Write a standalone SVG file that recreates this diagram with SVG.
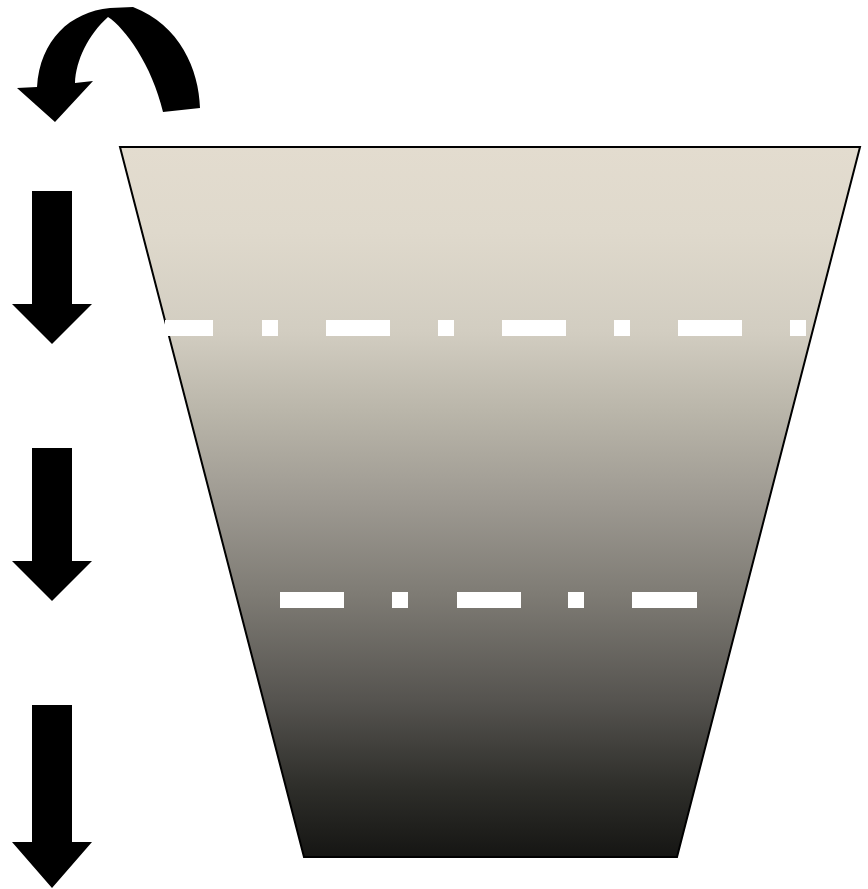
<svg xmlns="http://www.w3.org/2000/svg" width="868" height="889" viewBox="0 0 868 889">
<style>
.arrow{fill:#000;}
.dash{fill:#fff;}
</style>
<defs>
<linearGradient id="g" x1="0" y1="147" x2="0" y2="858" gradientUnits="userSpaceOnUse">
<stop offset="0" stop-color="#e3dccf"/>
<stop offset="0.12" stop-color="#dfd9cc"/>
<stop offset="0.26" stop-color="#d2cdc1"/>
<stop offset="0.37" stop-color="#bab6aa"/>
<stop offset="0.5" stop-color="#9d9991"/>
<stop offset="0.63" stop-color="#7e7b74"/>
<stop offset="0.78" stop-color="#55534f"/>
<stop offset="0.9" stop-color="#2e2e2a"/>
<stop offset="1" stop-color="#151513"/>
</linearGradient>
</defs>
<g id="belt">
<polygon points="120,147 860,147 677,857 304,857" fill="url(#g)" stroke="#000" stroke-width="2"/>
</g>
<g id="pitch-line-top">
<rect class="dash" x="165" y="320" width="48" height="16"/>
<rect class="dash" x="262" y="320" width="16" height="16"/>
<rect class="dash" x="326" y="320" width="64" height="16"/>
<rect class="dash" x="438" y="320" width="16" height="16"/>
<rect class="dash" x="502" y="320" width="64" height="16"/>
<rect class="dash" x="614" y="320" width="16" height="16"/>
<rect class="dash" x="678" y="320" width="64" height="16"/>
<rect class="dash" x="790" y="320" width="16" height="16"/>
</g>
<g id="pitch-line-bottom">
<rect class="dash" x="280" y="592" width="64" height="16"/>
<rect class="dash" x="392" y="592" width="16" height="16"/>
<rect class="dash" x="457" y="592" width="64" height="16"/>
<rect class="dash" x="568" y="592" width="16" height="16"/>
<rect class="dash" x="632" y="592" width="65" height="16"/>
</g>
<g id="connectors">
<path id="curved-arrow" class="arrow" d="M163,112 L200,108 C199,70 180,25 133,7 L110,8 C70,12 40,40 37,87 L17,88 L55,122 L93,81 L75,83 C76,60 88,35 108,17 C125,28 152,65 163,112 Z"/>
<polygon id="arrow-1" class="arrow" points="32,191 72,191 72,304 92,304 52,344 12,304 32,304"/>
<polygon id="arrow-2" class="arrow" points="32,448 72,448 72,561 92,561 52,601 12,561 32,561"/>
<polygon id="arrow-3" class="arrow" points="32,705 72,705 72,842 92,842 52,888 12,842 32,842"/>
</g>
</svg>
